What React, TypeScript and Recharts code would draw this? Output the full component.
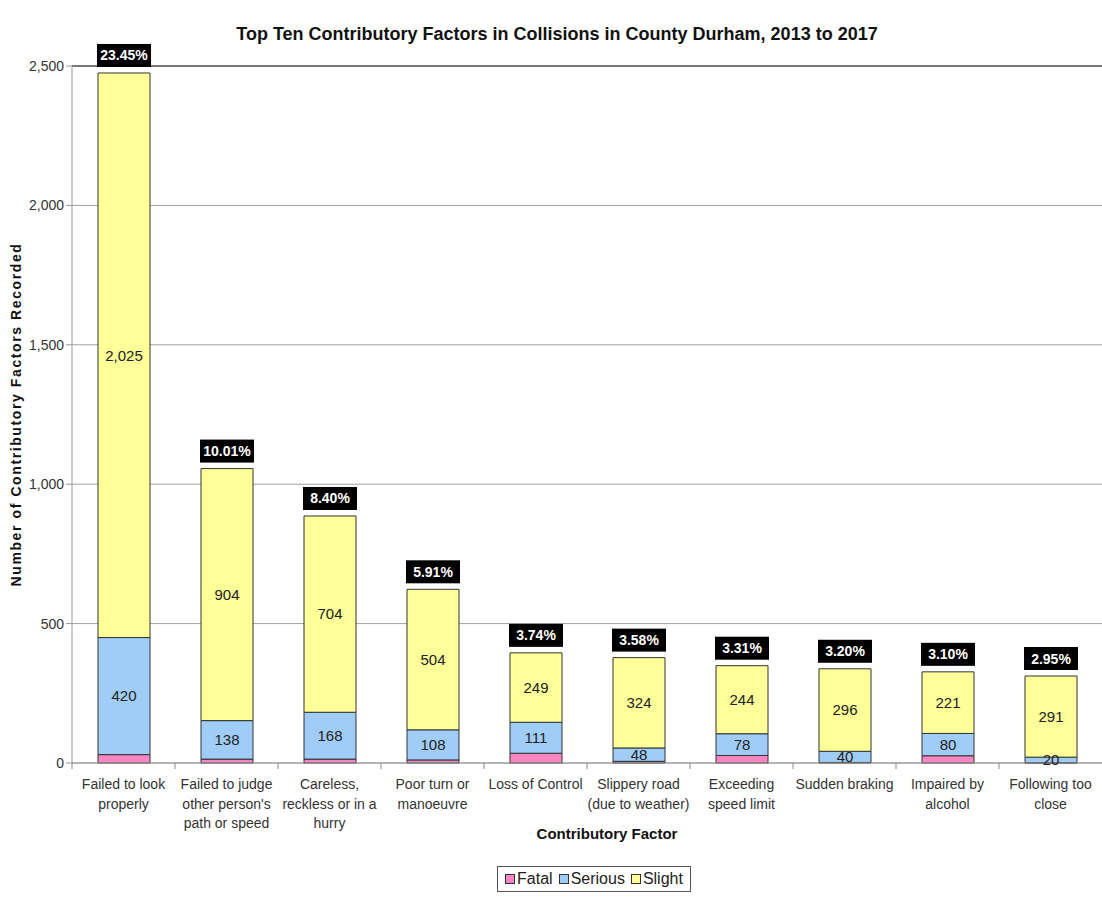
import React from "react";
import {
  BarChart,
  Bar,
  XAxis,
  YAxis,
  CartesianGrid,
  Legend,
  LabelList,
  ReferenceLine
} from "recharts";

const CATEGORIES = [
  "Failed to look\nproperly",
  "Failed to judge\nother person's\npath or speed",
  "Careless,\nreckless or in a\nhurry",
  "Poor turn or\nmanoeuvre",
  "Loss of Control",
  "Slippery road\n(due to weather)",
  "Exceeding\nspeed limit",
  "Sudden braking",
  "Impaired by\nalcohol",
  "Following too\nclose"
];
const FATAL = [30, 14, 14, 11, 35, 6, 27, 2, 26, 1];
const SERIOUS = [420, 138, 168, 108, 111, 48, 78, 40, 80, 20];
const SLIGHT = [2025, 904, 704, 504, 249, 324, 244, 296, 221, 291];
const PCT = ["23.45%", "10.01%", "8.40%", "5.91%", "3.74%", "3.58%", "3.31%", "3.20%", "3.10%", "2.95%"];
const Y_TICKS = [0, 500, 1000, 1500, 2000, 2500];

const data = CATEGORIES.map((name, i) => ({
  name,
  fatal: FATAL[i],
  serious: SERIOUS[i],
  slight: SLIGHT[i]
}));

const NARROW = "'Liberation Sans Narrow', 'Arial Narrow', 'Liberation Sans', Arial, sans-serif";
const SANS = "'Liberation Sans', Arial, sans-serif";
const COLORS = { fatal: "#f985c4", serious: "#9fcdf7", slight: "#ffff99" };

function CatTick(props: any) {
  const { x, y, payload } = props;
  const lines = String(payload.value).split("\n");
  return (
    <g>
      <line x1={x - 51.5} y1={y - 8} x2={x - 51.5} y2={y - 2} stroke="#888" />
      {lines.map((l, i) => (
        <text key={i} x={x} y={y + 18 + i * 19.5} textAnchor="middle" fontSize={14} fill="#333" fontFamily={NARROW}>
          {l}
        </text>
      ))}
    </g>
  );
}

function PctLabel(props: any) {
  const { x, y, width, index } = props;
  const cx = x + width / 2;
  const bw = 54;
  const bh = 23;
  return (
    <g>
      <rect x={cx - bw / 2} y={y - 6 - bh} width={bw} height={bh} fill="#000" />
      <text x={cx} y={y - 6 - bh / 2 + 5} textAnchor="middle" fontSize={14} fontWeight="bold" fill="#fff" fontFamily={NARROW}>
        {PCT[index]}
      </text>
    </g>
  );
}

function LegendBox() {
  const items = [
    { label: "Fatal", color: COLORS.fatal },
    { label: "Serious", color: COLORS.serious },
    { label: "Slight", color: COLORS.slight }
  ];
  return (
    <div
      style={{
        border: "1px solid #555",
        height: 26,
        width: 194,
        display: "flex",
        alignItems: "center",
        justifyContent: "center",
        gap: 6,
        fontFamily: NARROW,
        fontSize: 16,
        color: "#222",
        boxSizing: "border-box"
      }}
    >
      {items.map((it) => (
        <span key={it.label} style={{ display: "flex", alignItems: "center" }}>
          <span style={{ width: 8, height: 8, background: it.color, border: "1px solid #333", marginRight: 2 }} />
          {it.label}
        </span>
      ))}
    </div>
  );
}

export default function App() {
  return (
    <div style={{ position: "absolute", left: 0, top: 0, width: 1102, height: 897, background: "#fff" }}>
      <BarChart
        width={1102}
        height={897}
        data={data}
        margin={{ top: 66, right: 0, left: 0, bottom: 54 }}
        barSize={52}
      >
        <text x={557} y={40} textAnchor="middle" fontSize={18} fontWeight="bold" fill="#111" fontFamily={NARROW}>
          Top Ten Contributory Factors in Collisions in County Durham, 2013 to 2017
        </text>
        <CartesianGrid vertical={false} stroke="#a0a0a0" />
        <XAxis
          dataKey="name"
          interval={0}
          height={80}
          tickLine={false}
          axisLine={{ stroke: "#999" }}
          tick={<CatTick />}
          label={{
            value: "Contributory Factor",
            position: "insideBottom",
            offset: 4,
            dx: 20,
            fontSize: 15,
            fontWeight: "bold",
            fill: "#111",
            fontFamily: NARROW
          }}
        />
        <YAxis
          width={72}
          domain={[0, 2500]}
          ticks={Y_TICKS}
          interval={0}
          tickSize={6}
          tickLine={{ stroke: "#999" }}
          axisLine={{ stroke: "#999" }}
          tick={{ fontSize: 14, fill: "#333", fontFamily: NARROW }}
          tickFormatter={(v: number) => v.toLocaleString("en-GB")}
          label={{
            value: "Number of Contributory  Factors Recorded",
            angle: -90,
            position: "insideLeft",
            offset: 16,
            fontSize: 14,
            fontWeight: "bold",
            fill: "#111",
            fontFamily: SANS,
            style: { textAnchor: "middle", letterSpacing: 1.6 }
          }}
        />
        <ReferenceLine y={2500} stroke="#777" strokeWidth={2} />
        <Bar dataKey="fatal" name="Fatal" stackId="a" fill={COLORS.fatal} stroke="#333" isAnimationActive={false} />
        <Bar dataKey="serious" name="Serious" stackId="a" fill={COLORS.serious} stroke="#333" isAnimationActive={false}>
          <LabelList dataKey="serious" position="center" fontSize={15} fill="#222" fontFamily={NARROW} />
        </Bar>
        <Bar dataKey="slight" name="Slight" stackId="a" fill={COLORS.slight} stroke="#333" isAnimationActive={false}>
          <LabelList
            dataKey="slight"
            position="center"
            fontSize={15}
            fill="#222"
            fontFamily={NARROW}
            formatter={(v: any) => Number(v).toLocaleString("en-GB")}
          />
          <LabelList dataKey="slight" content={<PctLabel />} />
        </Bar>
        <Legend
          verticalAlign="middle"
          layout="horizontal"
          content={<LegendBox />}
          wrapperStyle={{ position: "absolute", left: 497, top: 866, width: 194, height: 26 }}
        />
      </BarChart>
    </div>
  );
}
